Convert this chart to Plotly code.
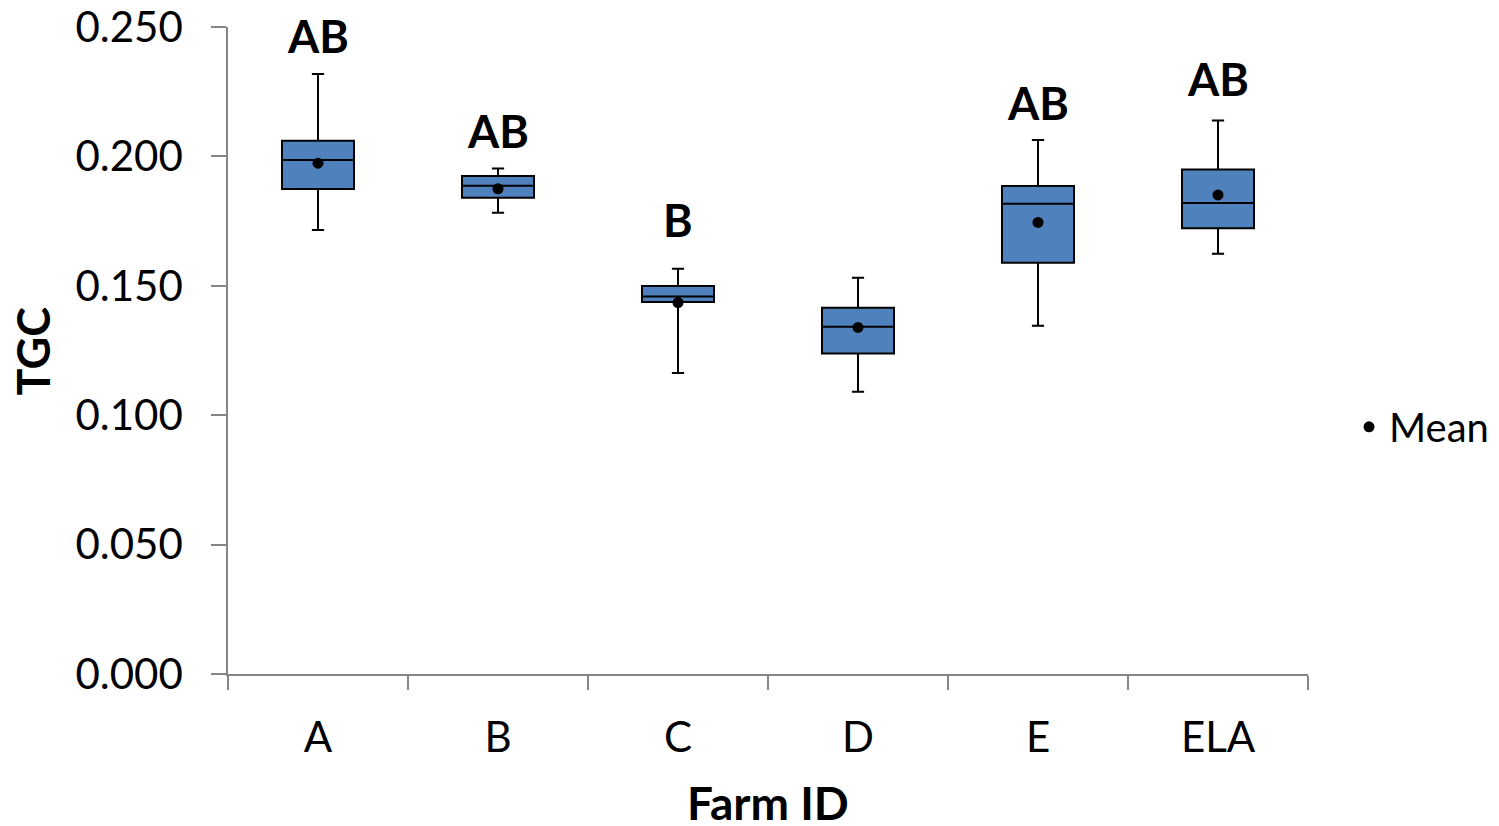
import plotly.graph_objects as go

farms = ["A", "B", "C", "D", "E", "ELA"]
lower_whisker = [0.1716, 0.1782, 0.1163, 0.1091, 0.1346, 0.1624]
q1_vals = [0.1874, 0.1840, 0.1437, 0.1238, 0.1589, 0.1722]
median_vals = [0.1986, 0.1887, 0.1459, 0.1342, 0.1817, 0.1820]
q3_vals = [0.2060, 0.1924, 0.1499, 0.1415, 0.1886, 0.1949]
upper_whisker = [0.2318, 0.1953, 0.1566, 0.1531, 0.2063, 0.2139]
mean_vals = [0.1974, 0.1875, 0.1435, 0.1339, 0.1745, 0.1851]

letter_farms = ["A", "B", "C", "E", "ELA"]
letter_text = ["AB", "AB", "B", "AB", "AB"]
letter_y = [0.2465, 0.2098, 0.1754, 0.2206, 0.2299]

y_ticks = [0.0, 0.05, 0.10, 0.15, 0.20, 0.25]

FONT = "Lato"
AXIS_GREY = "#868686"

fig = go.Figure()
fig.add_trace(go.Box(
    x=farms,
    q1=q1_vals,
    median=median_vals,
    q3=q3_vals,
    lowerfence=lower_whisker,
    upperfence=upper_whisker,
    fillcolor="#4F81BD",
    line=dict(color="black", width=2),
    width=0.4,
    whiskerwidth=0.17,
    showlegend=False,
    hoverinfo="skip",
))
fig.add_trace(go.Scatter(
    x=farms,
    y=mean_vals,
    mode="markers",
    marker=dict(color="black", size=11),
    name="Mean",
))

for f, t, yv in zip(letter_farms, letter_text, letter_y):
    fig.add_annotation(
        x=f, y=yv, text=f"<b>{t}</b>", showarrow=False,
        font=dict(family=FONT, size=45, color="black"),
        xanchor="center", yanchor="middle",
    )

fig.add_annotation(
    xref="paper", yref="paper", x=0.5, y=-0.199,
    text="<b>Farm ID</b>", showarrow=False,
    font=dict(family=FONT, size=46, color="black"),
    xanchor="center", yanchor="middle",
)
fig.add_annotation(
    xref="paper", yref="paper", x=-0.1806, y=0.5,
    text="<b>TGC</b>", showarrow=False, textangle=-90,
    font=dict(family=FONT, size=45, color="black"),
    xanchor="center", yanchor="middle",
)

fig.update_layout(
    width=1499, height=826,
    margin=dict(l=228, r=191, t=27, b=152, autoexpand=False),
    paper_bgcolor="white", plot_bgcolor="white",
    font=dict(family=FONT, size=42, color="black"),
    legend=dict(
        x=1.038, y=0.382, xanchor="left", yanchor="middle",
        font=dict(family=FONT, size=40, color="black"),
        bgcolor="rgba(0,0,0,0)", itemwidth=30,
    ),
    xaxis=dict(
        type="category",
        categoryorder="array", categoryarray=farms,
        range=[-0.5, 5.5],
        automargin=False,
        showline=True, linecolor=AXIS_GREY, linewidth=1.5,
        ticks="outside", tickson="boundaries", ticklen=14,
        tickcolor=AXIS_GREY, tickwidth=1.5,
        ticklabelstandoff=26,
        showgrid=False, zeroline=False,
        tickfont=dict(family=FONT, size=42),
    ),
    yaxis=dict(
        range=[0, 0.25],
        automargin=False,
        tickvals=y_ticks,
        tickformat=".3f",
        ticklabeloverflow="allow",
        showline=True, linecolor=AXIS_GREY, linewidth=1.5,
        ticks="outside", ticklen=15, tickcolor=AXIS_GREY, tickwidth=1.5,
        ticklabelstandoff=20,
        showgrid=False, zeroline=False,
        tickfont=dict(family=FONT, size=42),
    ),
)

fig.write_html(
    "out.html",
    config={"displayModeBar": False},
    post_script="document.body.style.margin='0';document.body.style.overflow='hidden';",
)
